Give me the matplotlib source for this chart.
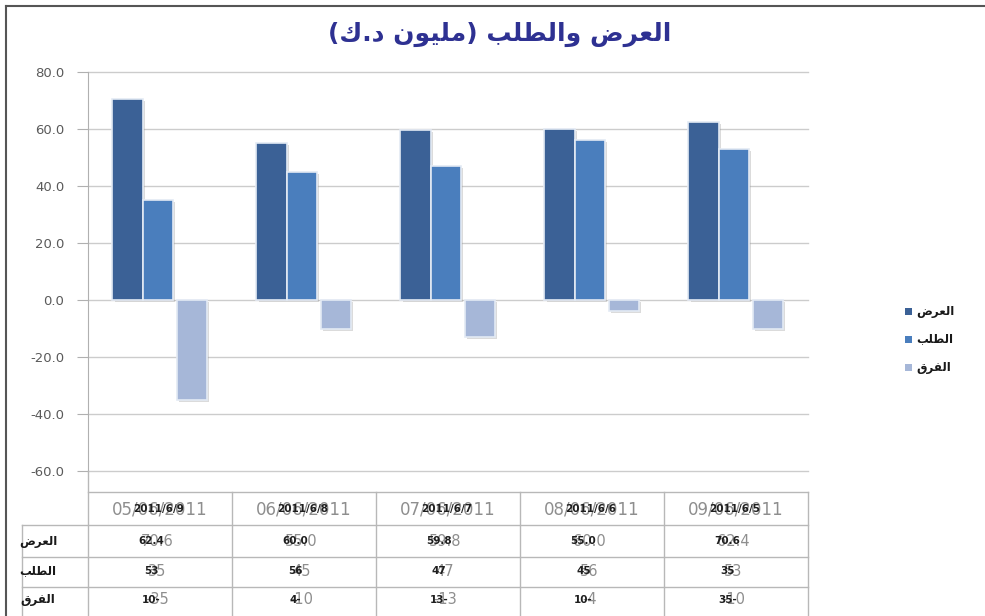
import matplotlib
matplotlib.use('Agg')
import matplotlib.pyplot as plt
import matplotlib.patheffects as pe
import matplotlib.transforms as mtrans
from matplotlib.lines import Line2D
from matplotlib.patches import Rectangle
import numpy as np

# ---------------- data ----------------
categories = ['05/06/2011', '06/06/2011', '07/06/2011', '08/06/2011', '09/06/2011']
overlay_dates = ['2011/6/9', '2011/6/8', '2011/6/7', '2011/6/6', '2011/6/5']
offer = [70.6, 55.0, 59.8, 60.0, 62.4]
demand = [35, 45, 47, 56, 53]
gap = [-35, -10, -13, -4, -10]
series_names = ['العرض', 'الطلب', 'الفرق']
title = 'العرض والطلب (مليون د.ك)'
yticks = [-60, -40, -20, 0, 20, 40, 60, 80]

colors = ['#3b6196', '#4a7ebd', '#a6b7d8']

# ------------- minimal Arabic shaping -------------
FORMS = {
    'ا': (0xFE8D, 0xFE8E, None, None),
    'ب': (0xFE8F, 0xFE90, 0xFE91, 0xFE92),
    'د': (0xFEA9, 0xFEAA, None, None),
    'ر': (0xFEAD, 0xFEAE, None, None),
    'ض': (0xFEBD, 0xFEBE, 0xFEBF, 0xFEC0),
    'ط': (0xFEC1, 0xFEC2, 0xFEC3, 0xFEC4),
    'ع': (0xFEC9, 0xFECA, 0xFECB, 0xFECC),
    'ف': (0xFED1, 0xFED2, 0xFED3, 0xFED4),
    'ق': (0xFED5, 0xFED6, 0xFED7, 0xFED8),
    'ك': (0xFED9, 0xFEDA, 0xFEDB, 0xFEDC),
    'ل': (0xFEDD, 0xFEDE, 0xFEDF, 0xFEE0),
    'م': (0xFEE1, 0xFEE2, 0xFEE3, 0xFEE4),
    'ن': (0xFEE5, 0xFEE6, 0xFEE7, 0xFEE8),
    'و': (0xFEED, 0xFEEE, None, None),
    'ي': (0xFEF1, 0xFEF2, 0xFEF3, 0xFEF4),
}
MIRROR = {'(': ')', ')': '('}


def shape(s):
    out = []
    n = len(s)
    i = 0
    while i < n:
        c = s[i]
        if c not in FORMS:
            out.append(MIRROR.get(c, c))
            i += 1
            continue
        prev = s[i - 1] if i > 0 else ''
        nxt = s[i + 1] if i + 1 < n else ''
        join_prev = prev in FORMS and FORMS[prev][2] is not None
        if c == 'ل' and nxt == 'ا':
            out.append(chr(0xFEFC if join_prev else 0xFEFB))
            i += 2
            continue
        join_next = FORMS[c][2] is not None and nxt in FORMS
        f = FORMS[c]
        if join_prev and join_next:
            out.append(chr(f[3]))
        elif join_prev:
            out.append(chr(f[1]))
        elif join_next:
            out.append(chr(f[2]))
        else:
            out.append(chr(f[0]))
        i += 1
    return ''.join(reversed(out))


# ---------------- figure ----------------
W, H = 985, 616
fig = plt.figure(figsize=(W / 100, H / 100), dpi=100)
fig.patch.set_facecolor('white')


def fx(px):
    return px / W


def fy(py):
    return 1 - py / H


ax = fig.add_axes([fx(88), fy(471), fx(808) - fx(88), fy(72) - fy(471)])
ax.set_xlim(-0.5, 4.5)
ax.set_ylim(-60, 80)

x = np.arange(len(categories))
bw = 0.21
offsets = [-0.225, -0.015, 0.22]
shadow = [pe.SimplePatchShadow(offset=(1.5, -1.5), shadow_rgbFace='#9a9a9a', alpha=0.35), pe.Normal()]
for vals, off, col in zip([offer, demand, gap], offsets, colors):
    ax.bar(x + off, vals, bw, color=col, edgecolor='#e3eaf4', linewidth=1.2,
           path_effects=shadow, zorder=3)

ax.set_yticks(yticks)
ax.set_yticklabels([f'{v:.1f}' for v in yticks])
ax.yaxis.grid(True, color='#cccccc', linewidth=1)
for gl in ax.get_ygridlines():
    gl.set_clip_on(False)
ax.set_axisbelow(True)
ax.set_xticks([])
for s in ['top', 'right', 'bottom']:
    ax.spines[s].set_visible(False)
ax.spines['left'].set_color('#b0b0b0')
ax.tick_params(axis='y', length=8, color='#b0b0b0', labelcolor='#5a5a5a',
               labelsize=9.5, pad=9)

# ---------------- title ----------------
fig.text(fx(500), fy(34), shape(title), color='#2e3192', fontsize=18,
         fontweight='bold', ha='center', va='center', family='DejaVu Sans')

# ---------------- legend ----------------
leg_y = [311, 339, 367]
for name, col, yy in zip(series_names, colors, leg_y):
    fig.patches.append(Rectangle((fx(905), fy(yy + 3.5)), 7 / W, 7 / H,
                                 transform=fig.transFigure, facecolor=col,
                                 edgecolor='none'))
    fig.text(fx(916), fy(yy), shape(name), fontsize=8.5, fontweight='bold',
             ha='left', va='center', color='#1a1a1a')

# ---------------- data table ----------------
lc = '#b8b8b8'


def hline(y, x0, x1):
    fig.add_artist(Line2D([fx(x0), fx(x1)], [fy(y), fy(y)], color=lc, lw=1,
                          transform=fig.transFigure))


def vline(xx, y0, y1):
    fig.add_artist(Line2D([fx(xx), fx(xx)], [fy(y0), fy(y1)], color=lc, lw=1,
                          transform=fig.transFigure))


hline(492, 88, 808)
for yy in [525, 557, 587]:
    hline(yy, 22, 808)
vline(22, 525, 616)
vline(88, 471, 616)
for xx in [232, 376, 520, 664, 808]:
    vline(xx, 492, 616)

trans = mtrans.blended_transform_factory(ax.transData, fig.transFigure)
row_y = [509, 541, 571, 600]
grey = '#8e8e8e'
for i in range(len(categories)):
    ax.text(x[i], fy(row_y[0]), categories[i], transform=trans, ha='center',
            va='center', fontsize=12, color=grey, clip_on=False)
    ax.text(x[i] - 0.01, fy(row_y[0]), overlay_dates[i], transform=trans,
            ha='center', va='center', fontsize=7.5, fontweight='bold',
            color='#1e1e1e', clip_on=False)
    j = len(categories) - 1 - i
    grey_vals = [f'{offer[i]:.1f}', f'{demand[i]}', f'{gap[i]}']
    blk_vals = [f'{offer[j]:.1f}', f'{demand[j]}', f'{abs(gap[j])}-']
    for r in range(3):
        ax.text(x[i] - 0.02, fy(row_y[r + 1]), grey_vals[r], transform=trans,
                ha='center', va='center', fontsize=10.5, color=grey,
                clip_on=False)
        ax.text(x[i] - 0.06, fy(row_y[r + 1]), blk_vals[r], transform=trans,
                ha='center', va='center', fontsize=7.5, fontweight='bold',
                color='#1e1e1e', clip_on=False)

for name, yy in zip(series_names, row_y[1:]):
    fig.text(fx(38), fy(yy), shape(name), fontsize=8.5, fontweight='bold',
             ha='center', va='center', color='#1a1a1a')

# ---------------- outer frame ----------------
fig.add_artist(Line2D([fx(6), fx(6)], [fy(6), 0], color='#555555', lw=1.5,
                      transform=fig.transFigure))
fig.add_artist(Line2D([fx(6), 1], [fy(6), fy(6)], color='#555555', lw=1.5,
                      transform=fig.transFigure))

fig.savefig('out.png', dpi=100)
